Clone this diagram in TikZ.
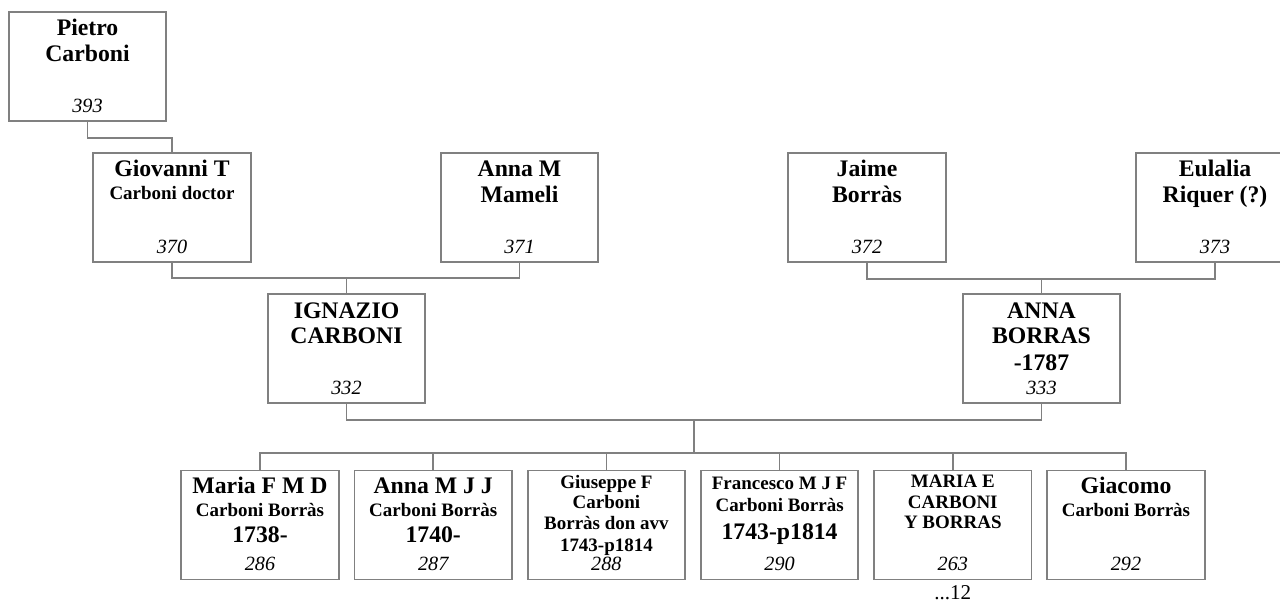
\documentclass[tikz,border=0pt]{standalone}
\usepackage{fontspec}
\setmainfont{Liberation Serif}
\usetikzlibrary{positioning}

\begin{document}
\begin{tikzpicture}[
  person/.style={draw=black!50,line width=1pt,minimum width=3.15cm,
    minimum height=2.18cm,inner sep=0pt},
  link/.style={draw=black!50,line width=1pt},
  big/.style={font=\fontsize{13.5}{15}\selectfont\bfseries,anchor=base,inner sep=0pt},
  small/.style={font=\fontsize{10.8}{12}\selectfont\bfseries,anchor=base,inner sep=0pt},
  num/.style={font=\fontsize{11.5}{13}\selectfont\itshape,anchor=base,inner sep=0pt}]
\useasboundingbox (0,0) rectangle (25.6,-12.04);

% --- grandparents and great-grandfather ---
\node[person] (pietro) at (1.75,-1.33)  {};
\node[person] (giov)   at (3.44,-4.15)  {};
\node[person] (annam)  at (10.39,-4.15) {};
\node[person] (jaime)  at (17.34,-4.15) {};
\node[person] (eul)    at (24.30,-4.15) {};

\node[big] (pietro-a) at ([yshift=-0.49cm]pietro.north) {Pietro};
\node[big] (pietro-b) at ([yshift=-1.0cm]pietro.north)  {Carboni};
\node[num] (pietro-n) at ([yshift=-2.02cm]pietro.north) {393};

\node[big]   (giov-a) at ([yshift=-0.48cm]giov.north) {Giovanni T};
\node[small] (giov-b) at ([yshift=-0.94cm]giov.north) {Carboni doctor};
\node[num]   (giov-n) at ([yshift=-2.02cm]giov.north) {370};

\node[big] (annam-a) at ([yshift=-0.49cm]annam.north) {Anna M};
\node[big] (annam-b) at ([yshift=-1.0cm]annam.north)  {Mameli};
\node[num] (annam-n) at ([yshift=-2.02cm]annam.north) {371};

\node[big] (jaime-a) at ([yshift=-0.49cm]jaime.north) {Jaime};
\node[big] (jaime-b) at ([yshift=-1.0cm]jaime.north)  {Borràs};
\node[num] (jaime-n) at ([yshift=-2.02cm]jaime.north) {372};

\node[big] (eul-a) at ([yshift=-0.49cm]eul.north) {Eulalia};
\node[big] (eul-b) at ([yshift=-1.0cm]eul.north)  {Riquer (?)};
\node[num] (eul-n) at ([yshift=-2.02cm]eul.north) {373};

% --- parents ---
\node[person] (ign)   at (6.93,-6.97)  {};
\node[person] (annab) at (20.83,-6.97) {};

\node[big] (ign-a) at ([yshift=-0.5cm]ign.north)  {IGNAZIO};
\node[big] (ign-b) at ([yshift=-1.0cm]ign.north)  {CARBONI};
\node[num] (ign-n) at ([yshift=-2.02cm]ign.north) {332};

\node[big] (annab-a) at ([yshift=-0.5cm]annab.north)  {ANNA};
\node[big] (annab-b) at ([yshift=-1.0cm]annab.north)  {BORRAS};
\node[big] (annab-c) at ([yshift=-1.54cm]annab.north) {-1787};
\node[num] (annab-n) at ([yshift=-2.02cm]annab.north) {333};

% --- children ---
\foreach \i/\x/\n in {1/5.2/286,2/8.664/287,3/12.128/288,4/15.592/290,5/19.056/263,6/22.52/292}{
  \node[person] (c\i) at (\x,-10.5) {};
  \node[num] (c\i-n) at ([yshift=-2.01cm]c\i.north) {\n};
}

\node[big]   (c1-a) at ([yshift=-0.48cm]c1.north) {Maria F M D};
\node[small] (c1-b) at ([yshift=-0.94cm]c1.north) {Carboni Borràs};
\node[big]   (c1-c) at ([yshift=-1.46cm]c1.north) {1738-};

\node[big]   (c2-a) at ([yshift=-0.48cm]c2.north) {Anna M J J};
\node[small] (c2-b) at ([yshift=-0.94cm]c2.north) {Carboni Borràs};
\node[big]   (c2-c) at ([yshift=-1.46cm]c2.north) {1740-};

\node[small] (c3-a) at ([yshift=-0.38cm]c3.north) {Giuseppe F};
\node[small] (c3-b) at ([yshift=-0.78cm]c3.north) {Carboni};
\node[small] (c3-c) at ([yshift=-1.2cm]c3.north)  {Borràs don avv};
\node[small] (c3-d) at ([yshift=-1.64cm]c3.north) {1743-p1814};

\node[small] (c4-a) at ([yshift=-0.4cm]c4.north)  {Francesco M J F};
\node[small] (c4-b) at ([yshift=-0.83cm]c4.north) {Carboni Borràs};
\node[big]   (c4-c) at ([yshift=-1.4cm]c4.north)  {1743-p1814};

\node[small] (c5-a) at ([yshift=-0.36cm]c5.north) {MARIA E};
\node[small] (c5-b) at ([yshift=-0.78cm]c5.north) {CARBONI};
\node[small] (c5-c) at ([yshift=-1.18cm]c5.north) {Y BORRAS};
\node[font=\fontsize{12}{14}\selectfont,anchor=base,inner sep=0pt] (more12)
  at ([yshift=-0.39cm]c5.south) {...12};

\node[big]   (c6-a) at ([yshift=-0.48cm]c6.north) {Giacomo};
\node[small] (c6-b) at ([yshift=-0.93cm]c6.north) {Carboni Borràs};

% --- connectors ---
\draw[link] (pietro.south) -- ++(0,-0.32) -| (giov.north);
\draw[link] (giov.south) -- ++(0,-0.3) coordinate (gb) -| (annam.south);
\draw[link] (ign.north) -- (ign.north |- gb);
\draw[link] (jaime.south) -- ++(0,-0.32) coordinate (jb) -| (eul.south);
\draw[link] (annab.north) -- (annab.north |- jb);
\draw[link] (ign.south) -- ++(0,-0.32) coordinate (pb) -| (annab.south);
\path (ign.south) -- coordinate[pos=0.5] (mid) (annab.south);
\draw[link] (c1.north) -- ++(0,0.34) coordinate (cb) -| (c6.north);
\draw[link] (mid |- pb) -- (mid |- cb);
\foreach \i in {2,...,5}{\draw[link] (c\i.north) -- (c\i.north |- cb);}
\end{tikzpicture}
\end{document}
